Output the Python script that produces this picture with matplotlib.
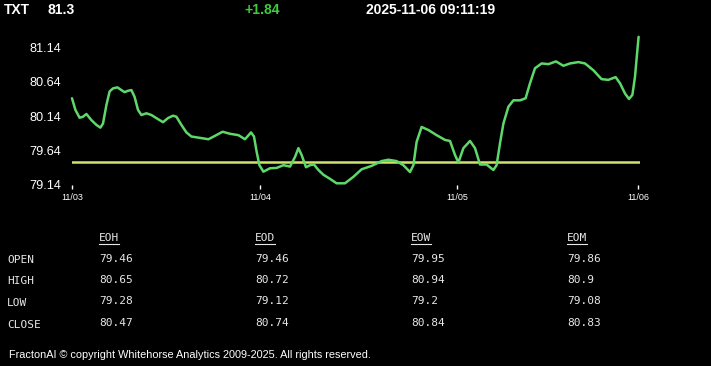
import matplotlib
matplotlib.use("Agg")
import matplotlib.pyplot as plt
from matplotlib.lines import Line2D

# ---------------- data ----------------
symbol = "TXT"
last_price = "81.3"
change = "+1.84"
timestamp = "2025-11-06 09:11:19"

# time position (session units) and price
t = [0, 1.7, 3.8, 5.5, 7.2, 9.7, 12.2, 14.2, 15.5, 17.2, 18.8, 20.5, 22.7, 24.7,
     26.3, 28, 29.7, 31.3, 33, 34.7, 37.2, 39.7, 42.7, 45.5, 48, 50.5, 52.2,
     54.7, 57.2, 59.7, 64, 68.2, 71.5, 75.3, 79, 83.2, 86.5, 89.5, 91, 92.3,
     93.7, 95.7, 99, 102.3, 105.7, 109, 111.5, 113.2, 114.8, 117, 119, 121,
     123.2, 125.7, 129, 132.3, 136.5, 140.7, 144.8, 149.8, 154.8, 158.2, 162.3,
     165.7, 169, 170.7, 172.3, 174.8, 178.2, 182.3, 186.5, 189, 191.5, 193.2,
     195.7, 199, 201.5, 204, 207.3, 210.7, 212.3, 214, 215.7, 218.2, 220.7,
     224, 226.8, 229, 231.5, 234.8, 238.2, 242, 245.7, 249, 253.2, 256.5,
     260.7, 264.8, 268.2, 271.8, 274, 276.5, 278.5, 280.2, 281.5, 282.7, 283.3]
price = [80.40, 80.23, 80.115, 80.13, 80.17, 80.08, 80.01, 79.97, 80.03, 80.30,
         80.50, 80.545, 80.56, 80.52, 80.49, 80.51, 80.52, 80.42, 80.23, 80.155,
         80.18, 80.155, 80.10, 80.05, 80.11, 80.145, 80.13, 80.01, 79.90, 79.84,
         79.82, 79.80, 79.85, 79.91, 79.88, 79.86, 79.80, 79.90, 79.84, 79.62,
         79.42, 79.325, 79.375, 79.38, 79.42, 79.40, 79.54, 79.67, 79.57, 79.39,
         79.42, 79.43, 79.35, 79.28, 79.22, 79.155, 79.155, 79.25, 79.36, 79.41,
         79.48, 79.50, 79.48, 79.42, 79.32, 79.42, 79.76, 79.98, 79.935, 79.86,
         79.79, 79.775, 79.57, 79.46, 79.67, 79.775, 79.67, 79.43, 79.43, 79.35,
         79.42, 79.74, 80.03, 80.276, 80.37, 80.37, 80.40, 80.62, 80.84, 80.91,
         80.90, 80.94, 80.876, 80.91, 80.93, 80.91, 80.81, 80.68, 80.67, 80.71,
         80.62, 80.47, 80.39, 80.45, 80.715, 81.11, 81.30]
ref_level = 79.46

x_tick_pos = [0, 94, 192.7, 283.2]
x_tick_labels = ["11/03", "11/04", "11/05", "11/06"]
y_ticks = [79.14, 79.64, 80.14, 80.64, 81.14]

columns = ["EOH", "EOD", "EOW", "EOM"]
row_labels = ["OPEN", "HIGH", "LOW", "CLOSE"]
table_values = [
    ["79.46", "79.46", "79.95", "79.86"],
    ["80.65", "80.72", "80.94", "80.9"],
    ["79.28", "79.12", "79.2", "79.08"],
    ["80.47", "80.74", "80.84", "80.83"],
]
footer = "FractonAI \u00a9 copyright Whitehorse Analytics 2009-2025. All rights reserved."

# ---------------- figure ----------------
W, H = 711, 366
fig = plt.figure(figsize=(W / 100, H / 100), dpi=100, facecolor="black")

def fx(px):
    return px / W

def fy(py):
    return 1 - py / H

ax = fig.add_axes([fx(72), fy(185), (640 - 72) / W, (185 - 30) / H], facecolor="black")
ax.plot(t, price, color="#5fd86a", lw=1.8, solid_joinstyle="round",
        solid_capstyle="round", clip_on=False, zorder=3)
ax.plot([t[0], 284], [ref_level, ref_level], color="#cfe36a", lw=1.8, zorder=2)
ax.set_xlim(0, 284)
ax.set_ylim(79.13, 81.40)
for s in ax.spines.values():
    s.set_visible(False)
ax.set_yticks(y_ticks)
ax.set_yticklabels([f"{v:.2f}" for v in y_ticks])
ax.tick_params(axis="y", length=0, pad=8, labelcolor="white", labelsize=9.2)
for lab in ax.get_yticklabels():
    lab.set_family("Liberation Sans")
ax.set_xticks(x_tick_pos)
ax.set_xticklabels(x_tick_labels)
ax.tick_params(axis="x", length=3, width=1, color="white", pad=3,
               labelcolor="white", labelsize=6.5)
for lab in ax.get_xticklabels():
    lab.set_family("Liberation Sans")

# ---------------- header ----------------
hdr = dict(family="Liberation Sans", fontweight="bold", fontsize=10, va="baseline")
fig.text(fx(4), fy(14), symbol, color="white", **hdr)
fig.text(fx(47.5), fy(14), last_price, color="white", **hdr)
fig.text(fx(244), fy(14), change, color="#3ccc3c", **hdr)
fig.text(fx(366), fy(14), timestamp, color="white", **hdr)

# ---------------- table ----------------
mono = dict(family="DejaVu Sans Mono", fontsize=8, color="#e8e8e8", va="center")
col_x = [99, 255, 411, 567]
for cx, name in zip(col_x, columns):
    fig.text(fx(cx), fy(238), name, **mono)
    fig.add_artist(Line2D([fx(cx), fx(cx + 20)], [fy(243.5), fy(243.5)],
                          color="#e8e8e8", lw=0.8, transform=fig.transFigure))
label_y = [260, 281, 302.5, 324.5]
value_y = [258.5, 280, 301.5, 323.5]
for ly, vy, lab, vals in zip(label_y, value_y, row_labels, table_values):
    fig.text(fx(7), fy(ly), lab, **mono)
    for cx, v in zip(col_x, vals):
        fig.text(fx(cx), fy(vy), v, **mono)

fig.text(fx(9), fy(355), footer, family="Liberation Sans", fontsize=7.8,
         color="white", va="center")

fig.savefig("out.png", dpi=100, facecolor="black")
